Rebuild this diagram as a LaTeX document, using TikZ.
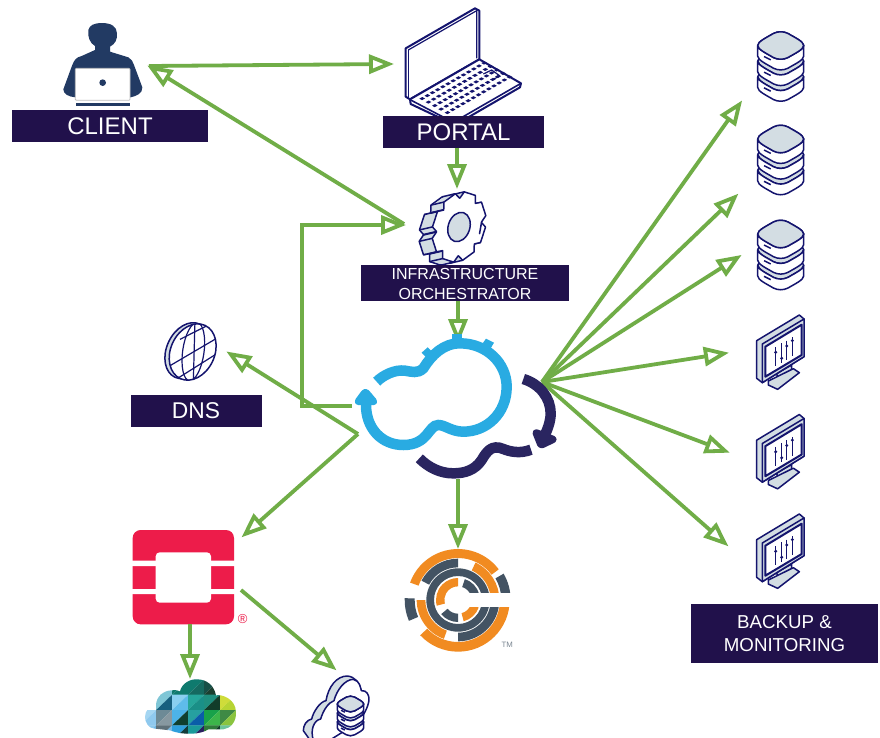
\documentclass[tikz,border=0pt]{standalone}
\usepackage{fontspec}
\setmainfont{Liberation Sans}
\usetikzlibrary{arrows.meta}
\definecolor{labelbg}{HTML}{21114B}
\definecolor{linkgreen}{HTML}{70AD47}
\definecolor{iconnavy}{HTML}{14146E}
\definecolor{iconfill}{HTML}{D3DDE3}
\definecolor{persona}{HTML}{223A63}
\definecolor{cloudblue}{HTML}{29ABE2}
\definecolor{cloudnavy}{HTML}{2A2560}
\definecolor{chefor}{HTML}{F18B21}
\definecolor{chefsl}{HTML}{435363}
\definecolor{osred}{HTML}{ED1C4A}
\tikzset{
  labelbox/.style={fill=labelbg,text=white,inner sep=0pt,align=center},
  link/.style={draw=linkgreen,line width=3.8pt,line join=miter,shorten >=-2pt,-{Triangle[open,length=25pt,width=19pt]}},
  iconline/.style={draw=iconnavy,line width=1.5pt,line join=round},
  zoomed/.style={scale=0.33333},
}
% ring segment
\newcommand\ringseg[5]{\fill[#1] (#2:#4) arc[start angle=#2,end angle=#3,radius=#4] -- (#3:#5) arc[start angle=#3,end angle=#2,radius=#5] -- cycle;}
% lower edge of a database disc, from left to right, at height #1
\newcommand\dblower[1]{.. controls (-69,#1+12) and (-40,#1+25) .. (-22,#1+36) .. controls (-8,#1+43) and (8,#1+43) .. (22,#1+36) .. controls (40,#1+25) and (69,#1+12) .. (69,#1)}
\newcommand\dbupper[1]{.. controls (69,#1-12) and (40,#1-25) .. (22,#1-36) .. controls (8,#1-43) and (-8,#1-43) .. (-22,#1-36) .. controls (-40,#1-25) and (-69,#1-12) .. (-69,#1)}
\newcommand\dbtier[2]{%
  \filldraw[iconline,fill=iconfill] (-69,#1) \dblower{#1} \dbupper{#1} -- cycle;
  \filldraw[iconline,fill=white] (-69,#1) \dblower{#1} -- (69,#1+#2) .. controls (69,#1+#2+12) and (40,#1+#2+25) .. (22,#1+#2+36) .. controls (8,#1+#2+43) and (-8,#1+#2+43) .. (-22,#1+#2+36) .. controls (-40,#1+#2+25) and (-69,#1+#2+12) .. (-69,#1+#2) -- cycle;
  \draw[iconline] (-50,#1+33) -- (-30,#1+43);
}
\newcommand\dbicon[3]{%
  \begin{scope}[shift={(#1,#2)},scale=#3]
    \dbtier{94}{32}
    \dbtier{47}{32}
    \dbtier{0}{32}
    \filldraw[iconline,fill=iconfill] (-69,0) \dblower{0} \dbupper{0} -- cycle;
  \end{scope}
}
\newcommand\monitoricon[2]{%
  \begin{scope}[shift={(#1,#2)},zoomed]
    \filldraw[iconline,fill=iconfill] (140,190) -- (185,165) -- (185,190) -- (145,215) -- cycle;
    \filldraw[iconline,fill=iconfill] (115,213) -- (190,176) -- (208,188) -- (143,238) -- (115,225) -- cycle;
    \filldraw[iconline,fill=iconfill] (80,92) -- (208,15) -- (222,27) -- (222,140) -- (97,218) -- (80,205) -- cycle;
    \filldraw[iconline,fill=iconfill] (97,102) -- (222,27) -- (222,140) -- (97,218) -- cycle;
    \filldraw[iconline,fill=white,line width=2pt] (106,110) -- (215,44) -- (215,135) -- (106,200) -- cycle;
    \draw[iconline] (137,112) -- (137,168) (155,100) -- (155,158) (170,92) -- (170,150) (187,82) -- (187,138);
    \fill[iconnavy] (137,127) circle (5) (155,145) circle (5) (170,108) circle (5) (187,92) circle (5);
  \end{scope}
}
\begin{document}
\begin{tikzpicture}[x=1pt,y=-1pt]
\useasboundingbox (0,0) rectangle (880,737);
\fill[white] (0,0) rectangle (880,737);

% ----- client person
\begin{scope}[zoomed]
  \fill[persona] (285,150) -- (285,138) .. controls (270,130) and (262,110) .. (265,90) .. controls (270,75) and (280,70) .. (305,69) .. controls (335,69) and (350,80) .. (351,100) .. controls (352,120) and (345,132) .. (330,140) -- (330,155) -- (385,172) .. controls (395,176) and (398,185) .. (402,195) -- (427,262) .. controls (428,280) and (410,288) .. (392,292) -- (226,292) .. controls (205,290) and (190,282) .. (190,268) -- (215,200) .. controls (222,180) and (228,172) .. (245,168) -- cycle;
  \filldraw[fill=white,draw=black!25,line width=.8pt,rounded corners=1pt] (226,205) rectangle (390,301);
  \fill[persona] (308,248) circle (10);
  \fill[persona] (229,310) rectangle (389,319);
\end{scope}

% ----- portal laptop
\begin{scope}[shift={(340,0)},zoomed]
  \filldraw[iconline,line width=2pt,fill=white] (197,145) -- (405,25) -- (418,32) -- (418,178) -- (210,298) -- (197,290) -- cycle;
  \draw[iconline,line width=1.2pt] (205,150) -- (410,32) -- (410,175);
  \draw[iconline,line width=1.2pt] (205,150) -- (205,293);
  \filldraw[iconline,line width=2pt,fill=white] (210,298) -- (418,178) -- (543,250) -- (540,262) -- (345,375) -- (212,312) -- cycle;
  \draw[iconline,line width=1.6pt] (212,300) -- (340,367) -- (543,250);
  \foreach \i in {0,...,12} \foreach \j in {0,...,4} {
    \fill[iconnavy] ({238+\i*15.5+\j*19},{296-\i*8.9+\j*10.5}) -- ++(9,-5) -- ++(8,4.5) -- ++(-9,5) -- cycle;
  }
  \draw[iconline,line width=1.2pt] (430,222) -- (455,210) -- (480,228) -- (455,240);
\end{scope}

% ----- orchestrator gear
\begin{scope}[shift={(459,227)},rotate=-18,xscale=.72]
  \begin{scope}[shift={(-15.9,6.9)}]
    \filldraw[iconline,fill=iconfill] (0:30) \foreach \k in {0,45,...,315} { -- (\k-22:30) -- (\k-13:36) -- (\k+13:36) -- (\k+22:30) } -- cycle;
  \end{scope}
  \foreach \f in {.2,.4,.6,.8} {
    \begin{scope}[shift={({-15.9*\f},{6.9*\f})}]
      \fill[iconfill] (0:30) \foreach \k in {0,45,...,315} { -- (\k-22:30) -- (\k-13:36) -- (\k+13:36) -- (\k+22:30) } -- cycle;
    \end{scope}
  }
  \foreach \k in {0,45,...,315} \foreach \d/\r in {-22/30,-13/36,13/36,22/30} {
    \draw[iconline] (\k+\d:\r) -- ++(-15.9,6.9);
  }
  \filldraw[iconline,fill=white] (0:30) \foreach \k in {0,45,...,315} { -- (\k-22:30) -- (\k-13:36) -- (\k+13:36) -- (\k+22:30) } -- cycle;
  \filldraw[iconline,fill=iconfill] (0,0) circle (15);
\end{scope}

% ----- globe
\begin{scope}[shift={(130,310)},zoomed]
  \filldraw[iconline,fill=iconfill] (172,122) ellipse[x radius=62,y radius=88,rotate=-25];
  \begin{scope}
    \clip (188,126) ellipse[x radius=66,y radius=88,rotate=-25];
    \fill[white] (90,20) rectangle (290,230);
    \draw[iconline,line width=1.2pt] (190,125) ellipse[x radius=32,y radius=88,rotate=-8];
    \draw[iconline,line width=1.2pt] (195,30) -- (190,215);
    \draw[iconline,line width=1.2pt] (115,170) -- (265,82) (135,210) -- (270,125) (150,88) -- (245,40);
  \end{scope}
  \draw[iconline] (188,126) ellipse[x radius=66,y radius=88,rotate=-25];
\end{scope}

% ----- openstack
\begin{scope}[shift={(110,520)},zoomed]
  \fill[osred,rounded corners=8pt] (68,30) rectangle (372,313);
  \fill[white] (60,122) rectangle (380,138) (60,207) rectangle (380,222);
  \fill[white,rounded corners=4pt] (137,97) rectangle (303,248);
\end{scope}
\node[text=osred,font=\fontsize{13}{14}\selectfont,inner sep=0pt] (regmark) at (242.7,619.3) {®};

% ----- vmware cloud
\begin{scope}[shift={(140,672)},zoomed]
  \clip (15,135) .. controls (15,115) and (30,100) .. (48,100) .. controls (48,75) and (70,55) .. (95,55) .. controls (108,53) and (116,56) .. (120,58) .. controls (125,35) and (150,20) .. (172,22) .. controls (200,22) and (222,40) .. (228,70) .. controls (245,66) and (287,80) .. (288,120) .. controls (290,150) and (270,170) .. (250,172) -- (205,172) .. controls (185,186) and (135,192) .. (90,175) -- (45,170) .. controls (25,170) and (15,150) .. (15,135) -- cycle;
  \foreach \c/\r/\ca/\cb in {
    0/2/A5D6F2/8FC9EE, 0/3/8CC8EC/6FB6E4,
    1/0/7FC6D6/7FC6D6, 1/1/7FC6D6/17607F, 1/2/6D8A96/8798A0, 1/3/5F7078/7AB8E0,
    2/0/0F7A6E/0F7A6E, 2/1/8AD0F0/5FBCEA, 2/2/4DB3E8/0F3F2F, 2/3/2E9FDC/123C3A,
    3/0/0F7A6E/156A60, 3/1/26A69A/1A8F87, 3/2/26A0A0/0A5DA8, 3/3/1A9A9A/2A2060,
    4/0/164F47/1B3F30, 4/1/1F8F7F/123C2A, 4/2/18A24A/3CB54A, 4/3/2F7A3A/123C2A,
    5/1/CFDC3A/B7D433, 5/2/3F8A45/8AC43F, 5/3/6CC49A/4C9F6A} {
    \definecolor{ca}{HTML}{\ca}\definecolor{cb}{HTML}{\cb}
    \fill[ca] ({\c*48},{22+\r*46}) -- ({\c*48+48.5},{22+\r*46}) -- ({\c*48},{22+\r*46+46.5}) -- cycle;
    \fill[cb] ({\c*48+48.5},{22+\r*46}) -- ({\c*48+48.5},{22+\r*46+46.5}) -- ({\c*48},{22+\r*46+46.5}) -- cycle;
  }
\end{scope}

% ----- cloud with database
\begin{scope}[shift={(110,520)},zoomed]
  \filldraw[iconline,fill=iconfill] (580,632) .. controls (580,615) and (590,600) .. (605,597) .. controls (610,575) and (630,545) .. (648,542) .. controls (655,500) and (680,468) .. (712,468) .. controls (735,470) and (750,490) .. (752,508) -- (752,570) -- (640,660) -- (600,660) -- cycle;
  \filldraw[iconline,fill=white] (610,660) .. controls (600,630) and (612,600) .. (632,597) .. controls (640,570) and (655,548) .. (672,542) .. controls (680,510) and (705,478) .. (730,478) .. controls (750,482) and (752,505) .. (754,512) .. controls (770,510) and (778,525) .. (777,540) .. controls (775,560) and (760,590) .. (740,610) -- (660,660) -- cycle;
\end{scope}
\dbicon{350.5}{704}{0.19}

% ----- chef logo
\begin{scope}[shift={(458,600)},x=1pt,y=1pt,zoomed]
  \ringseg{chefor}{37}{160}{126}{153}
  \ringseg{chefor}{-137}{0}{126}{155}
  \ringseg{chefsl}{0}{30}{130}{158}
  \ringseg{chefsl}{178}{203}{130}{160}
  \ringseg{chefsl}{90}{152}{98}{124}
  \ringseg{chefor}{0}{65}{98}{124}
  \ringseg{chefor}{180}{250}{98}{124}
  \ringseg{chefsl}{-90}{0}{98}{124}
  \ringseg{chefsl}{0}{360}{72}{95}
  \ringseg{chefor}{90}{195}{41}{66}
  \ringseg{chefsl}{15}{72}{41}{66}
  \ringseg{chefsl}{-140}{-90}{41}{66}
  \ringseg{chefor}{-75}{-20}{41}{66}
  \fill[white] (20,-20) rectangle (165,20);
\end{scope}
\node[text=chefsl!70,font=\fontsize{7.8}{8}\selectfont,inner sep=0pt] (trademark) at (507.3,645) {TM};

% ----- database and monitor icons
\dbicon{780.7}{45.5}{0.33333}
\dbicon{780.7}{139}{0.33333}
\dbicon{780.7}{234}{0.33333}
\monitoricon{730}{310}
\monitoricon{730}{409.5}
\monitoricon{730}{509}

% ----- labels
\node[labelbox,minimum width=196pt,minimum height=32pt,font=\fontsize{24}{26}\selectfont] (client) at (110,126) {CLIENT};
\node[labelbox,minimum width=161pt,minimum height=32pt,font=\fontsize{24}{26}\selectfont] (portal) at (463.5,132) {PORTAL};
\node[labelbox,minimum width=208pt,minimum height=36pt] (orch) at (465,283) {};
\node[text=white,inner sep=0pt,align=center,font=\fontsize{16}{20}\selectfont] (orchtext) at (465,284) {INFRASTRUCTURE\\ORCHESTRATOR};
\node[labelbox,minimum width=131pt,minimum height=32pt,font=\fontsize{22.8}{24}\selectfont] (dns) at (196,411) {DNS};
\node[labelbox,minimum width=187pt,minimum height=59pt,font=\fontsize{18.7}{23}\selectfont] (backup) at (784.5,633.5) {BACKUP \&\\MONITORING};

% ----- connector ends
\coordinate (clientport) at (149,66);
\coordinate (clientin) at (149,66.5);
\coordinate (portalin) at (392,64);
\coordinate (orchleft) at (404,224);
\coordinate (orchin) at (404,225);
\coordinate (portalout) at (457,148);
\coordinate (gearin) at (457,187);
\coordinate (orchout) at (458,301);
\coordinate (cloudin) at (458,342);
\coordinate (cloudleft) at (352,406);
\coordinate (corner) at (302,406);
\coordinate (cornertop) at (302,225);
\coordinate (cloudlow) at (358,434);
\coordinate (dnsin) at (228,352.5);
\coordinate (osin) at (243,536);
\coordinate (osdown) at (190,624);
\coordinate (vmin) at (190,677);
\coordinate (osright) at (241,590);
\coordinate (cdbin) at (335,669);
\coordinate (cloudbottom) at (458,479);
\coordinate (chefin) at (458,547);
\coordinate (fan) at (542,382);
\coordinate (fana) at (741,102);
\coordinate (fanb) at (737,195);
\coordinate (fanc) at (740,256);
\coordinate (fand) at (727,353);
\coordinate (fane) at (728,452);
\coordinate (fanf) at (727,545);

% ----- connectors
\draw[link] (clientport) -- (portalin);
\draw[link] (orchleft) -- (clientin);
\draw[link] (portal.south -| portalout) -- (gearin);
\draw[link] (orch.south -| orchout) -- (cloudin);
\draw[link] (cloudleft) -- (corner) -- (cornertop) -- (orchin);
\draw[link] (cloudlow) -- (dnsin);
\draw[link] (cloudlow) -- (osin);
\draw[link] (osdown) -- (vmin);
\draw[link] (osright) -- (cdbin);
\draw[link] (cloudbottom) -- (chefin);
\foreach \t in {fana,fanb,fanc,fand,fane,fanf} \draw[link] (fan) -- (\t);

% ----- central cloud
\begin{scope}[shift={(340,310)},zoomed]
  \draw[cloudblue,line width=10.5pt] (110,215) .. controls (130,195) and (165,178) .. (195,182) .. controls (215,185) and (232,192) .. (250,175) .. controls (275,135) and (310,100) .. (360,100) .. controls (440,100) and (500,160) .. (500,230) .. controls (500,310) and (440,365) .. (370,365) .. controls (335,365) and (315,345) .. (295,345) .. controls (265,345) and (265,405) .. (190,405) .. controls (125,405) and (78,355) .. (78,285);
  \filldraw[cloudblue,line width=5pt,line join=round,rounded corners=3pt] (48,278) -- (76,240) -- (108,278) -- cycle;
  \fill[cloudblue] (337,72) rectangle (367,92);
  \fill[cloudblue] (245,128) -- (263,112) -- (277,126) -- (259,142) -- cycle;
  \fill[cloudblue] (428,100) -- (438,86) -- (462,98) -- (452,115) -- cycle;
  \draw[cloudnavy,line width=10.5pt] (550,207) .. controls (600,222) and (632,265) .. (632,310) .. controls (632,335) and (622,360) .. (612,380);
  \filldraw[cloudnavy,line width=6pt,line join=round,rounded corners=2pt] (585,365) -- (644,388) -- (602,408) -- cycle;
  \draw[cloudnavy,line width=10.5pt] (573,419) .. controls (540,432) and (510,425) .. (490,417) .. controls (455,402) and (440,425) .. (425,450) .. controls (405,480) and (375,490) .. (340,490) .. controls (300,490) and (265,472) .. (238,445);
\end{scope}
\end{tikzpicture}
\end{document}
